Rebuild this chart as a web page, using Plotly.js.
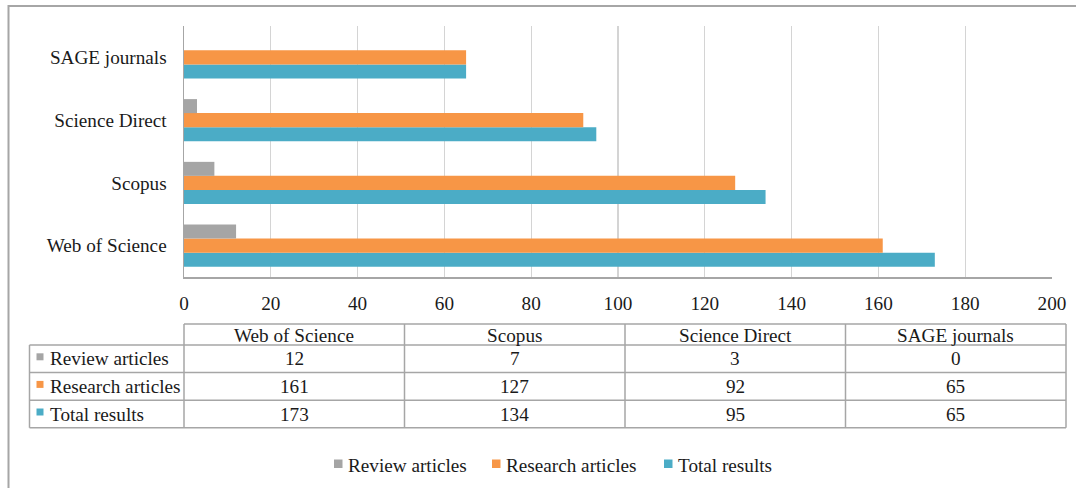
<!DOCTYPE html>
<html>
<head>
<meta charset="utf-8">
<script src="https://cdn.plot.ly/plotly-3.0.1.min.js"></script>
<style>
  html, body { margin: 0; padding: 0; background: #ffffff; }
  #chart { width: 1076px; height: 488px; }
</style>
</head>
<body>
<div id="chart"></div>
<script>
// ---- data ----
const categories = ['Web of Science', 'Scopus', 'Science Direct', 'SAGE journals'];
const reviewArticles = [12, 7, 3, 0];
const researchArticles = [161, 127, 92, 65];
const totalResults = [173, 134, 95, 65];
const seriesNames = ['Review articles', 'Research articles', 'Total results'];
const seriesColors = ['#a5a5a5', '#f79646', '#4bacc6'];
const xTickVals = [0, 20, 40, 60, 80, 100, 120, 140, 160, 180, 200];

// ---- geometry (pixels) ----
const W = 1076, H = 488;
const PL = 184, PR = 1052, PT = 26, PB = 277;
const px2x = px => (px - PL) / (PR - PL);
const py2y = py => (PB - py) / (PB - PT);

const FONT = 'Liberation Serif';
const TXT = '#1a1a1a';
const LINE = '#a6a6a6';
const FS = 19.2;

const seriesValues = [reviewArticles, researchArticles, totalResults];

// traces: bottom-to-top within group = Total, Research, Review
const traces = [2, 1, 0].map(i => ({
  type: 'bar',
  orientation: 'h',
  name: seriesNames[i],
  y: categories,
  x: seriesValues[i],
  marker: { color: seriesColors[i], line: { width: 0 } },
  showlegend: false,
  hoverinfo: 'x+name'
}));

const shapes = [];
const annotations = [];

// outer frame (cut off at right and bottom)
shapes.push({
  type: 'rect', xref: 'paper', yref: 'paper',
  x0: px2x(8.5), x1: px2x(W + 20), y0: py2y(H + 20), y1: py2y(6),
  line: { color: LINE, width: 2 }, fillcolor: 'rgba(0,0,0,0)', layer: 'below'
});

// ---- data table ----
const tabL = 29.5, tabC0 = 184, tabR = 1066;
const headTop = 324, headBot = 345, rowH = 27.6;
const nCols = categories.length;
const colW = (tabR - tabC0) / nCols;
const nRows = seriesNames.length;
const tabBot = headBot + rowH * nRows;

function hline(x0, x1, y, c) {
  shapes.push({ type: 'line', xref: 'paper', yref: 'paper',
    x0: px2x(x0), x1: px2x(x1), y0: py2y(y), y1: py2y(y),
    line: { color: c || LINE, width: 1.5 } });
}
function vline(x, y0, y1, c) {
  shapes.push({ type: 'line', xref: 'paper', yref: 'paper',
    x0: px2x(x), x1: px2x(x), y0: py2y(y0), y1: py2y(y1),
    line: { color: c || LINE, width: 1.5 } });
}
hline(tabC0, tabR, headTop);
hline(tabL, tabR, headBot);
for (let r = 1; r <= nRows; r++) hline(tabL, tabR, headBot + rowH * r);
vline(tabL, headBot, tabBot);
for (let c = 0; c <= nCols; c++) vline(tabC0 + colW * c, headTop, tabBot);

function txt(text, xpx, ypx, anchor) {
  annotations.push({
    text: text, xref: 'paper', yref: 'paper',
    x: px2x(xpx), y: py2y(ypx), xanchor: anchor || 'center', yanchor: 'middle',
    showarrow: false, font: { family: FONT, size: FS, color: TXT }
  });
}
// header
categories.forEach((cat, c) => txt(cat, tabC0 + colW * (c + 0.5), (headTop + headBot) / 2 + 0.5));
// rows
seriesNames.forEach((nm, r) => {
  const yc = headBot + rowH * (r + 0.5);
  shapes.push({ type: 'rect', xref: 'paper', yref: 'paper',
    x0: px2x(36.5), x1: px2x(43.5), y0: py2y(yc + 1.5), y1: py2y(yc - 5.5),
    line: { width: 0 }, fillcolor: seriesColors[r] });
  txt(nm, 48, yc, 'left');
  seriesValues[r].forEach((v, c) => txt(String(v), tabC0 + colW * (c + 0.5), yc));
});

// ---- legend (bottom) ----
const legSwatchX = [334, 492, 664];
const legY = 464;
seriesNames.forEach((nm, i) => {
  shapes.push({ type: 'rect', xref: 'paper', yref: 'paper',
    x0: px2x(legSwatchX[i]), x1: px2x(legSwatchX[i] + 8.5),
    y0: py2y(legY + 4), y1: py2y(legY - 4.5),
    line: { width: 0 }, fillcolor: seriesColors[i] });
  txt(nm, legSwatchX[i] + 12, legY + 1, 'left');
});

const layout = {
  width: W, height: H,
  margin: { l: PL, r: W - PR, t: PT, b: H - PB, pad: 0 },
  paper_bgcolor: '#ffffff', plot_bgcolor: '#ffffff',
  barmode: 'group', bargap: 0.33, bargroupgap: 0,
  showlegend: false,
  font: { family: FONT, size: FS, color: TXT },
  xaxis: {
    range: [0, 200], tickvals: xTickVals, ticktext: xTickVals.map(String),
    showgrid: true, gridcolor: '#d4d4d4', gridwidth: 1.3,
    zeroline: false, showline: true, linecolor: LINE, linewidth: 1.5,
    ticks: '', ticklabelstandoff: 8, fixedrange: true,
    tickfont: { family: FONT, size: FS, color: TXT }
  },
  yaxis: {
    type: 'category', categoryorder: 'array', categoryarray: categories,
    showgrid: false, zeroline: false, showline: true, linecolor: LINE, linewidth: 1.5,
    ticks: '', ticklabelstandoff: 12, fixedrange: true,
    tickfont: { family: FONT, size: FS, color: TXT }
  },
  shapes: shapes,
  annotations: annotations
};

Plotly.newPlot('chart', traces, layout, { displayModeBar: false, staticPlot: true });
</script>
</body>
</html>
